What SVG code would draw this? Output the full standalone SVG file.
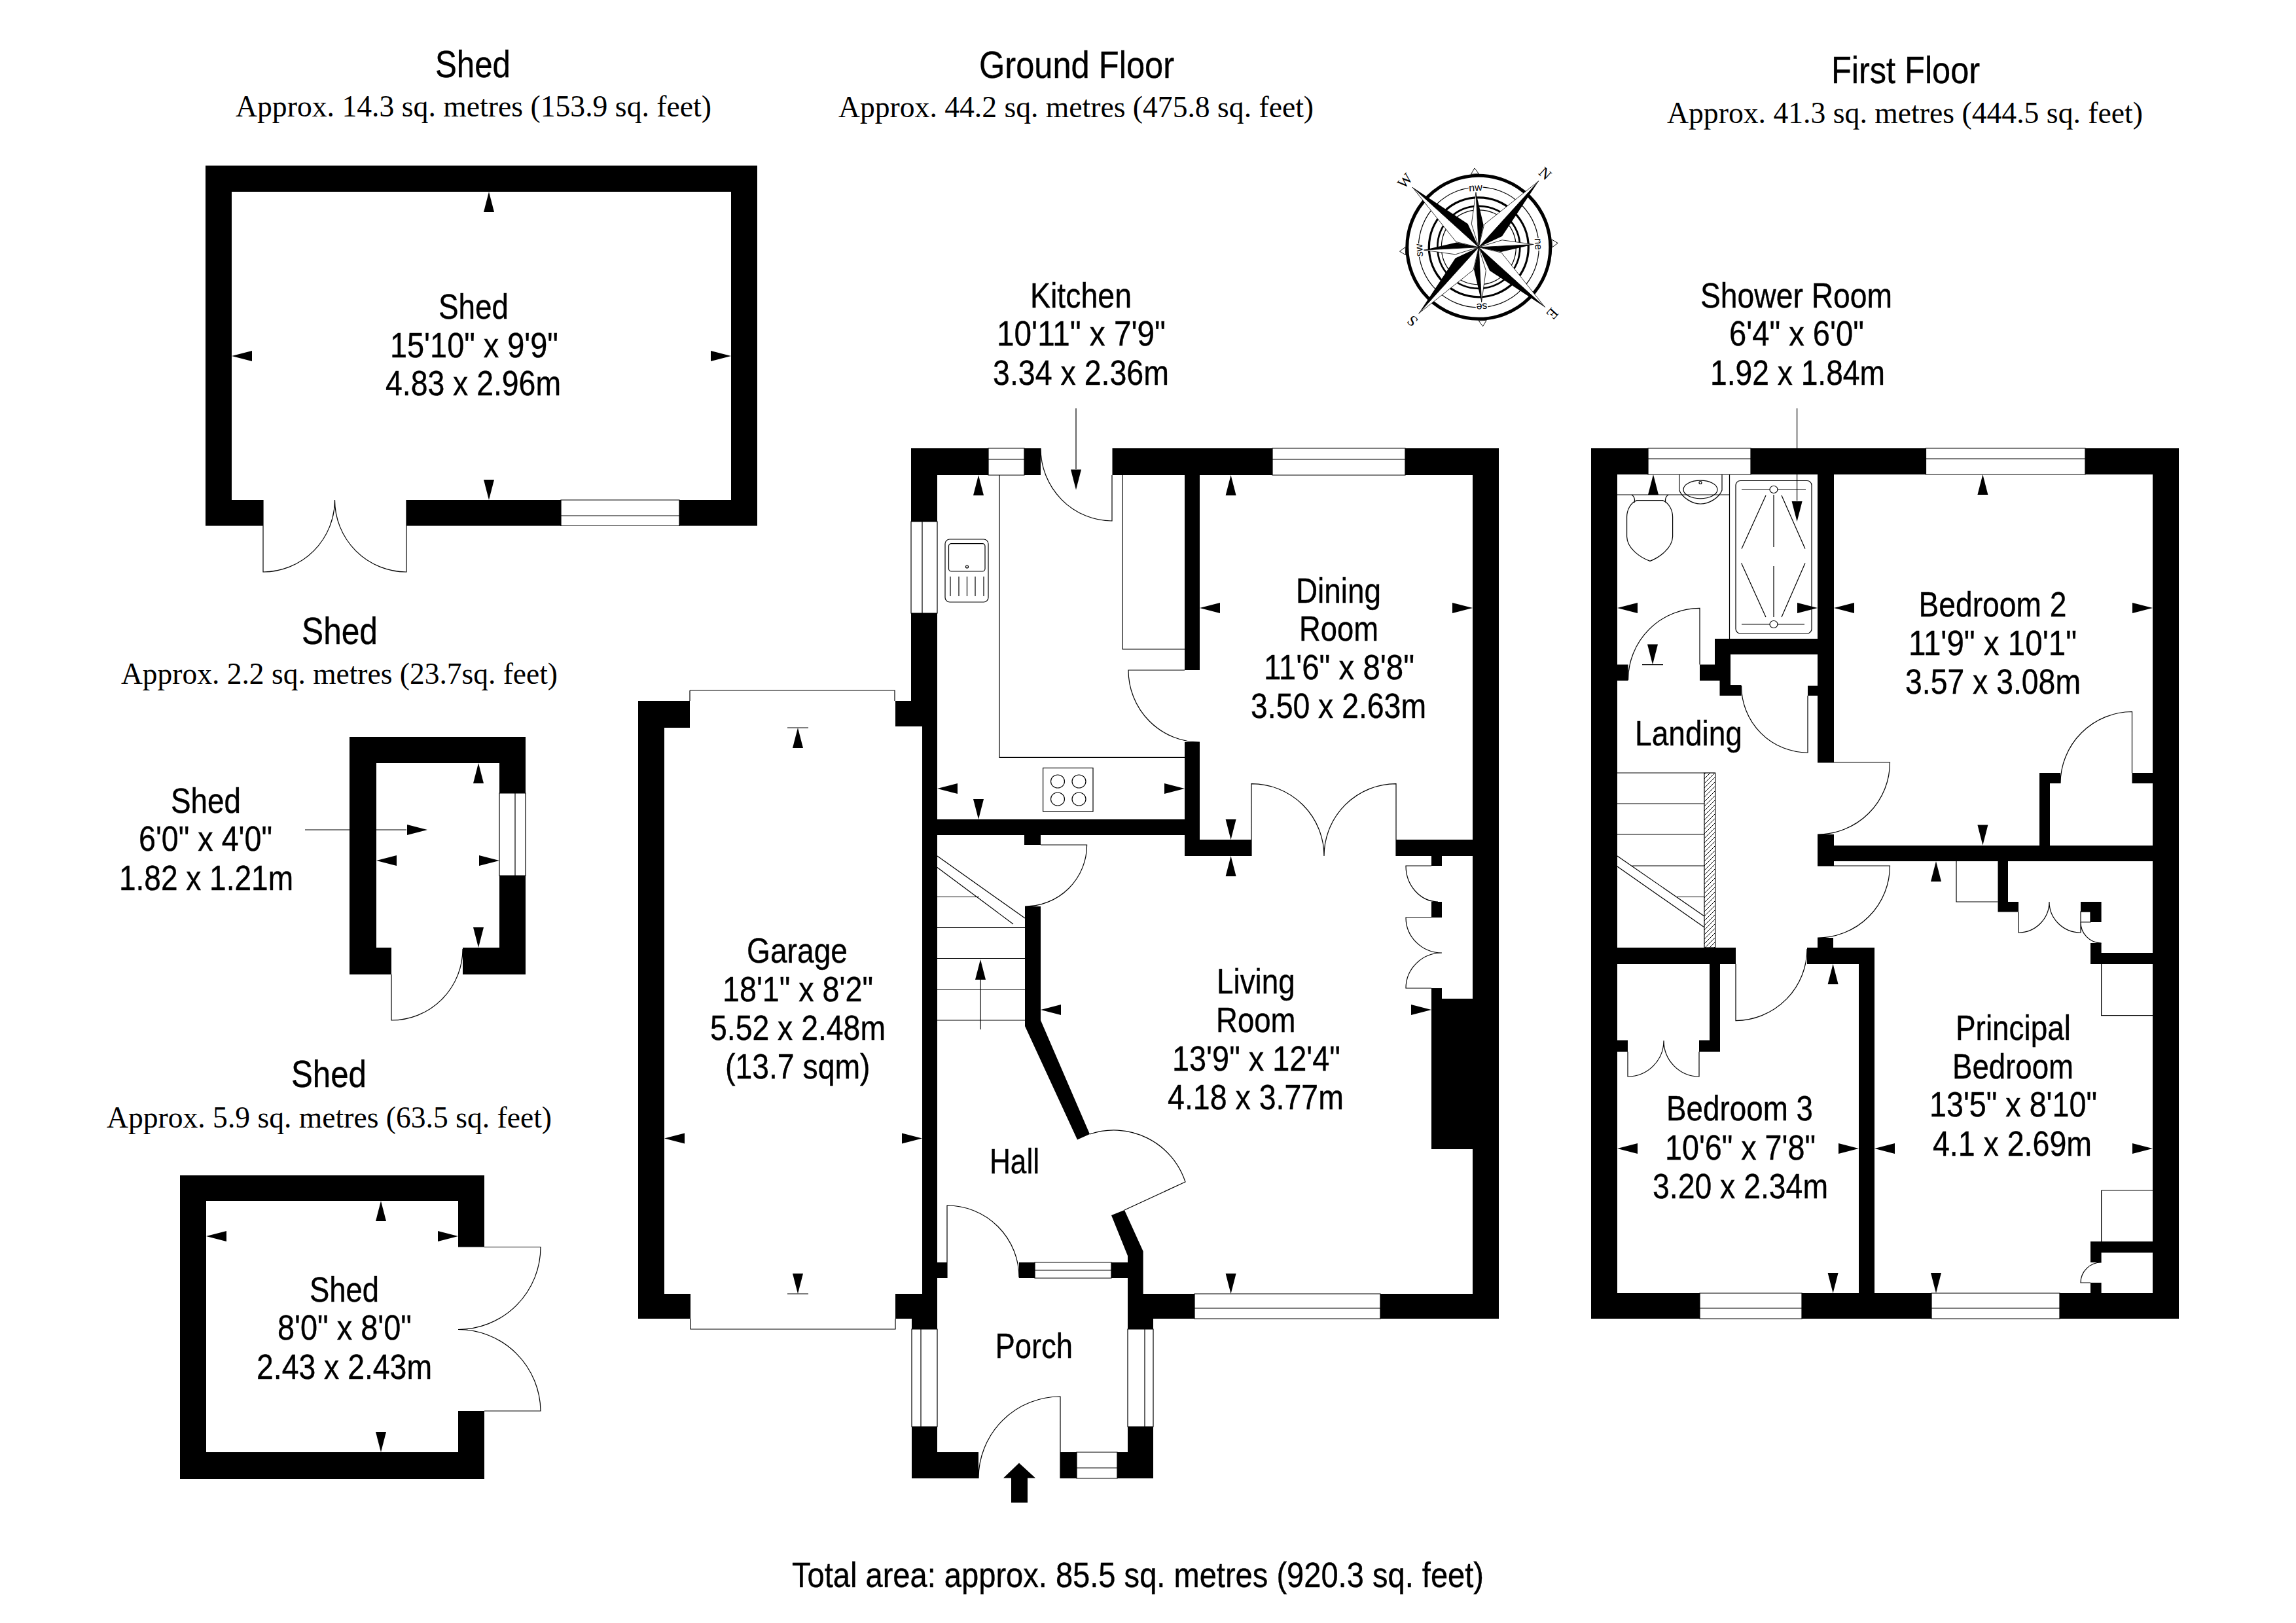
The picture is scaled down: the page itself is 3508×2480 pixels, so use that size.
<svg xmlns="http://www.w3.org/2000/svg" xmlns:xlink="http://www.w3.org/1999/xlink" width="3508" height="2480" viewBox="0 0 3508 2480">
<style>
text{fill:#000;white-space:pre}
.t{font:58px "Liberation Sans",Arial,sans-serif;stroke:#000;stroke-width:.4}
.l{font:54px "Liberation Sans",Arial,sans-serif;stroke:#000;stroke-width:.4}
.a{font:46px "Liberation Serif","Times New Roman",serif}
.w{fill:#000;stroke:none}
.n{fill:none;stroke:#000;stroke-width:1.2}
.f{fill:#fff;stroke:#000;stroke-width:1.2}
</style>
<defs>
<path id="h" d="M0 0L8 31H-8Z"/>
<pattern id="hatch" width="7" height="7" patternUnits="userSpaceOnUse"><path d="M-1 1L1 -1M0 7L7 0M6 8L8 6" stroke="#000" stroke-width="1"/></pattern>
<g id="arm">
<path d="M0 0L91.7 -101.3L8.300 -34.700Z" fill="#fff" stroke="#000" stroke-width=".8"/>
<path d="M0 0L91.7 -101.3L35.700 -16.700Z" fill="#000"/>
<path d="M0 0L-4.300 -84L-11 -35.700Z" fill="#fff" stroke="#000" stroke-width=".8"/>
<path d="M0 0L-4.300 -84L7.300 -34Z" fill="#000"/>
</g>
</defs>
<rect width="3508" height="2480" fill="#fff"/>

<g id="shed-1">
<path class="w" d="M314 253H1157V293H314ZM314 253H354V803.500H314ZM1117 253H1157V803.500H1117ZM314 764H402V803.500H314ZM621 764H857V803.500H621ZM1038 764H1157V803.500H1038Z"/>
<path class="n" d="M857 764H1038V803.500H857ZM857 788H1038M402 764V874A110 110 0 0 0 511.500 764M621 764V874A110 110 0 0 1 511.500 764"/>
<use href="#h" transform="translate(747 293)"/><use href="#h" transform="translate(747 764) rotate(180)"/><use href="#h" transform="translate(354 544) rotate(-90)"/><use href="#h" transform="translate(1117 544) rotate(90)"/>
<text class="t" x="665" y="117.500" textLength="115" lengthAdjust="spacingAndGlyphs">Shed</text>
<text class="a" x="360" y="178" textLength="727" lengthAdjust="spacingAndGlyphs">Approx. 14.3 sq. metres (153.9 sq. feet)</text>
<text class="l" x="670" y="487" textLength="107" lengthAdjust="spacingAndGlyphs">Shed</text>
<text class="l" x="596" y="545.500" textLength="257" lengthAdjust="spacingAndGlyphs">15'10" x 9'9"</text>
<text class="l" x="589" y="604" textLength="268" lengthAdjust="spacingAndGlyphs">4.83 x 2.96m</text>
</g>

<g id="shed-2">
<path class="w" d="M534 1126H803V1166H534ZM534 1126H575V1489H534ZM763 1126H803V1212H763ZM763 1338H803V1489H763ZM534 1448H598V1489H534ZM707 1448H803V1489H707Z"/>
<path class="n" d="M763 1212H803V1338H763ZM787 1212V1338M598 1489V1559A109 109 0 0 0 707 1450M466 1268H621"/>
<use href="#h" transform="translate(731 1166)"/><use href="#h" transform="translate(731 1448) rotate(180)"/><use href="#h" transform="translate(575 1315) rotate(-90)"/><use href="#h" transform="translate(763 1315) rotate(90)"/><use href="#h" transform="translate(653 1268) rotate(90)"/>
<text class="t" x="461" y="984" textLength="116" lengthAdjust="spacingAndGlyphs">Shed</text>
<text class="a" x="185" y="1045" textLength="667" lengthAdjust="spacingAndGlyphs">Approx. 2.2 sq. metres (23.7sq. feet)</text>
<text class="l" x="261" y="1242" textLength="107" lengthAdjust="spacingAndGlyphs">Shed</text>
<text class="l" x="212" y="1300" textLength="204" lengthAdjust="spacingAndGlyphs">6'0" x 4'0"</text>
<text class="l" x="182" y="1360" textLength="266" lengthAdjust="spacingAndGlyphs">1.82 x 1.21m</text>
</g>

<g id="shed-3">
<path class="w" d="M275 1796H740V1835H275ZM275 1796H315V2260H275ZM275 2219H740V2260H275ZM700 1796H740V1905.500H700ZM700 2156H740V2260H700Z"/>
<path class="n" d="M740 1905.500H826A126 126 0 0 1 700 2031.500A126 126 0 0 1 826 2156H740"/>
<use href="#h" transform="translate(582 1835)"/><use href="#h" transform="translate(582 2219) rotate(180)"/><use href="#h" transform="translate(315 1889) rotate(-90)"/><use href="#h" transform="translate(700 1889) rotate(90)"/>
<text class="t" x="445" y="1661" textLength="115" lengthAdjust="spacingAndGlyphs">Shed</text>
<text class="a" x="163" y="1723" textLength="680" lengthAdjust="spacingAndGlyphs">Approx. 5.9 sq. metres (63.5 sq. feet)</text>
<text class="l" x="473" y="1989" textLength="106" lengthAdjust="spacingAndGlyphs">Shed</text>
<text class="l" x="424" y="2047" textLength="205" lengthAdjust="spacingAndGlyphs">8'0" x 8'0"</text>
<text class="l" x="392" y="2107" textLength="268" lengthAdjust="spacingAndGlyphs">2.43 x 2.43m</text>
</g>

<g id="compass" transform="translate(2259.300 377.800)">
<circle r="109.500" fill="none" stroke="#000" stroke-width="5"/>
<circle r="92" class="n"/>
<circle r="76" fill="none" stroke="#000" stroke-width="3.300"/>
<circle r="63" fill="none" stroke="#000" stroke-width="2.700"/>
<circle r="57" class="n"/>
<use href="#arm"/><use href="#arm" transform="rotate(90)"/><use href="#arm" transform="rotate(180)"/><use href="#arm" transform="rotate(270)"/>
<g transform="rotate(-3)" fill="#fff" stroke="#000" stroke-width=".9">
<path d="M0 -121L-6 -112H6Z"/>
<path d="M0 -121L-6 -112H6Z" transform="rotate(90)"/><path d="M0 -121L-6 -112H6Z" transform="rotate(180)"/><path d="M0 -121L-6 -112H6Z" transform="rotate(270)"/>
</g>
<g font-family="'Liberation Sans',Arial,sans-serif" font-size="16" text-anchor="middle" paint-order="stroke" stroke="#fff" stroke-width="3">
<text transform="rotate(-3) translate(0 -86)">nw</text>
<text transform="rotate(87) translate(0 -86)">ne</text>
<text transform="rotate(177) translate(0 -86)">se</text>
<text transform="rotate(267) translate(0 -86)">sw</text>
</g>
<g font-family="'Liberation Serif','Times New Roman',serif" font-size="23" text-anchor="middle">
<text transform="rotate(42) translate(0 -144)">N</text>
<text transform="rotate(132) translate(0 -144)">E</text>
<text transform="rotate(222) translate(0 -144)">S</text>
<text transform="rotate(312) translate(0 -144)">W</text>
</g>
</g>

<g id="ground-floor">
<path class="w" d="M1392 685H1432V797H1392ZM1392 937H1432V1071H1392ZM1392 685H1510V726H1392ZM1565 685H1590V726H1565ZM1368 1071H1432V1110H1368ZM1409 1100H1432V2015H1409ZM975 1071H1054V1112H975ZM975 1071H1015V2015H975ZM975 1977H1055V2015H975ZM1368 1977H1432V2015H1368ZM1393 2015H1432V2031H1393ZM1393 2180H1432V2259H1393ZM1432 2219H1495V2259H1432ZM1432 1252H1810V1276H1432ZM1565 1276H1590V1291H1565ZM1699.500 685H1944V726H1699.500ZM2147 685H2290V726H2147ZM2250 685H2290V2015H2250ZM1810 726H1833V1024H1810ZM1810 1134H1833V1283H1810ZM1810 1283H1912V1308H1810ZM2133 1283H2250V1308H2133ZM2187 1308H2203V1323H2187ZM2187 1378H2203V1402H2187ZM2187 1510H2203V1526H2187ZM2187 1526H2250V1756H2187ZM1566 1385H1590V1559L1665 1733L1646 1741.600L1566 1568ZM1698 1857L1718 1849L1746.600 1912V1977H1723V1919ZM1432 1929H1447V1953H1432ZM1557 1929H1581V1953H1557ZM1698 1929H1746.600V1953H1698ZM1723 1953H1746.600V2015H1723ZM1723 1977H1825V2015H1723ZM2109 1977H2290V2015H2109ZM1723 2015H1762V2031H1723ZM1723 2180H1762V2259H1723ZM1707 2219H1762V2259H1707ZM1620 2219H1645V2259H1620Z"/>
<path class="n" d="M1510 685H1565V726H1510ZM1510 701.600H1565M1944 685H2147V726H1944ZM1944 701.600H2147M1392 797H1432V937H1392ZM1409 797V937M1054 1055H1367V1071M1054 1055V1071M1055 2015V2031H1368V2015M1825 1977H2109V2015H1825ZM1825 1999H2109M1581 1929H1698V1953H1581ZM1581 1941H1698M1393 2031H1432V2180H1393ZM1407 2031V2180M1723 2031H1762V2180H1723ZM1749 2031V2180M1645 2219H1707V2259H1645ZM1645 2243H1707"/>
<path class="n" d="M1590 685A109.500 111 0 0 0 1699 796V726M1810 1024H1724A109 110 0 0 0 1833 1134M1912 1308V1197.600A110.500 110.400 0 0 1 2023 1308A110 110.400 0 0 1 2133 1197.600V1308M1590 1291H1660.600A94.500 94 0 0 1 1566 1385M1447 1953V1842A110 110 0 0 1 1557 1952M1718 1849L1811 1806A115 115 0 0 0 1665 1733M1620 2259V2134A125 125 0 0 0 1495 2259M2187 1323H2148A50 55 0 0 0 2197 1378M2187 1402H2148A55 54 0 0 0 2203 1456A55 54 0 0 0 2148 1510H2187"/>
<path class="n" d="M1527 726V1157.400H1810M1715 726V992H1810M1432 1308L1566 1403M1432 1325.600L1548 1412M1432 1370.500H1496M1432 1417.500H1566M1432 1464.500H1566M1432 1511.500H1566M1432 1559H1566M1498 1573V1496M1203 1112H1235M1203 1977H1235"/>
<rect class="n" x="1444" y="824" width="66" height="96" rx="7"/>
<rect class="n" x="1449.500" y="830.600" width="55.500" height="42.400" rx="4"/>
<circle class="n" cx="1477.500" cy="866" r="2"/>
<path class="n" d="M1452 881V911M1465 881V911M1477.500 881V911M1490 881V911M1503 881V911"/>
<rect class="n" x="1593.600" y="1173.500" width="76.400" height="66.500"/>
<g class="n"><ellipse cx="1616" cy="1194" rx="10.500" ry="10"/><ellipse cx="1648.500" cy="1194" rx="10.500" ry="10"/><ellipse cx="1616" cy="1221" rx="10.500" ry="10"/><ellipse cx="1648.500" cy="1221" rx="10.500" ry="10"/></g>
<path class="n" d="M1644 624V717"/>
<path class="w" d="M1557 2235.500L1582 2258.600H1570V2296H1545V2258.600H1533Z"/>
<use href="#h" transform="translate(1495 726)"/><use href="#h" transform="translate(1644 748.500) rotate(180)"/><use href="#h" transform="translate(1432 1205) rotate(-90)"/><use href="#h" transform="translate(1810 1205) rotate(90)"/><use href="#h" transform="translate(1495 1252) rotate(180)"/>
<use href="#h" transform="translate(1880.600 726)"/><use href="#h" transform="translate(1833 929) rotate(-90)"/><use href="#h" transform="translate(2250 929) rotate(90)"/><use href="#h" transform="translate(1880.600 1283) rotate(180)"/>
<use href="#h" transform="translate(1880.600 1308)"/><use href="#h" transform="translate(1590 1543) rotate(-90)"/><use href="#h" transform="translate(2187 1543) rotate(90)"/><use href="#h" transform="translate(1880.600 1977) rotate(180)"/>
<use href="#h" transform="translate(1219 1112)"/><use href="#h" transform="translate(1219 1977) rotate(180)"/><use href="#h" transform="translate(1015 1739.500) rotate(-90)"/><use href="#h" transform="translate(1409 1739.500) rotate(90)"/><use href="#h" transform="translate(1498 1466)"/>
<text class="t" x="1496" y="119" textLength="298" lengthAdjust="spacingAndGlyphs">Ground Floor</text>
<text class="a" x="1281" y="179" textLength="726" lengthAdjust="spacingAndGlyphs">Approx. 44.2 sq. metres (475.8 sq. feet)</text>
<text class="l" x="1574" y="470" textLength="155" lengthAdjust="spacingAndGlyphs">Kitchen</text>
<text class="l" x="1523" y="528" textLength="258" lengthAdjust="spacingAndGlyphs">10'11" x 7'9"</text>
<text class="l" x="1517" y="588" textLength="269" lengthAdjust="spacingAndGlyphs">3.34 x 2.36m</text>
<text class="l" x="1980" y="921" textLength="130" lengthAdjust="spacingAndGlyphs">Dining</text>
<text class="l" x="1985" y="979" textLength="121" lengthAdjust="spacingAndGlyphs">Room</text>
<text class="l" x="1931" y="1038" textLength="230" lengthAdjust="spacingAndGlyphs">11'6" x 8'8"</text>
<text class="l" x="1911" y="1096.500" textLength="268" lengthAdjust="spacingAndGlyphs">3.50 x 2.63m</text>
<text class="l" x="1141" y="1471" textLength="154" lengthAdjust="spacingAndGlyphs">Garage</text>
<text class="l" x="1104" y="1530" textLength="230" lengthAdjust="spacingAndGlyphs">18'1" x 8'2"</text>
<text class="l" x="1085" y="1589" textLength="268" lengthAdjust="spacingAndGlyphs">5.52 x 2.48m</text>
<text class="l" x="1108" y="1647.500" textLength="221.500" lengthAdjust="spacingAndGlyphs">(13.7 sqm)</text>
<text class="l" x="1859" y="1518" textLength="119.600" lengthAdjust="spacingAndGlyphs">Living</text>
<text class="l" x="1858" y="1577" textLength="121.500" lengthAdjust="spacingAndGlyphs">Room</text>
<text class="l" x="1791" y="1636" textLength="257" lengthAdjust="spacingAndGlyphs">13'9" x 12'4"</text>
<text class="l" x="1784" y="1695" textLength="269" lengthAdjust="spacingAndGlyphs">4.18 x 3.77m</text>
<text class="l" x="1512" y="1793" textLength="76" lengthAdjust="spacingAndGlyphs">Hall</text>
<text class="l" x="1520.400" y="2075" textLength="118.600" lengthAdjust="spacingAndGlyphs">Porch</text>
</g>

<g id="first-floor">
<path class="w" d="M2431 685H2471V2015H2431ZM3289 685H3329V2015H3289ZM2431 685H2518V725H2431ZM2675 685H2942.500V725H2675ZM3186 685H3329V725H3186ZM2431 1976H2597V2015H2431ZM2753 1976H2951V2015H2753ZM3147 1976H3329V2015H3147ZM2777 725H2802V1165H2777ZM2777 1275H2802V1323H2777ZM2802 1292H3289V1316H2802ZM3116 1181H3132V1292H3116ZM3116 1181H3148V1197H3116ZM3257.500 1181H3289V1197H3257.500ZM2777 1433H2801V1448H2777ZM2761 1448H2864V1473H2761ZM2471 1448H2652V1473H2471ZM2840 1473H2864V1976H2840ZM2612 1473H2628V1607H2612ZM2596 1589.500H2628V1607H2596ZM2471 1589.500H2487V1607H2471ZM2620 976H2777V1000H2644V1047H2660.600V1063H2627.500V1040H2597V1015.600H2620ZM2762 1047.800H2777V1063H2762ZM2471 1015.600H2487.500V1040H2471ZM3052.500 1316H3068V1378H3052.500ZM3052.500 1378H3084V1393.400H3052.500ZM3179 1378H3210.600V1393.400H3179ZM3194 1393H3210.600V1409H3194ZM3194 1441H3210.600V1473H3194ZM3194 1456H3289V1473H3194ZM3194 1897H3289V1914H3194ZM3194 1914H3210.600V1929H3194ZM3194 1960H3210.600V1976H3194Z"/>
<path class="n" d="M2518 685H2675V725H2518ZM2518 701H2675M2942.500 685H3186V725H2942.500ZM2942.500 701H3186M2597 1976H2753V2015H2597ZM2597 1999H2753M2951 1976H3147V2015H2951ZM2951 1999H3147M3179 1393H3194V1409H3179Z"/>
<path class="n" d="M2777 1165H2887.500A110.500 110 0 0 1 2777 1275M2777 1323H2887.500A110.500 110 0 0 1 2777 1433M3257.500 1181V1087.500A110 110 0 0 0 3148 1197M2652 1473V1559.600A110 110 0 0 0 2761 1450M2487 1607V1645A55 55 0 0 0 2542 1590A54 55 0 0 0 2596 1645V1607M2762 1063V1150A101.500 102 0 0 1 2660.600 1048M2597 1015.600V929.400A110 110 0 0 0 2487.500 1039M3084 1393.400V1425A47 47 0 0 0 3131 1378A48 47 0 0 0 3179 1425V1409M3179 1409A31.600 32 0 0 0 3210.600 1441M3194 1960H3179A31.600 31 0 0 1 3210.600 1929"/>
<path class="n" d="M2989 1316V1378H3052.500M3210.600 1473V1551.600H3289M3210.600 1819H3289M3210.600 1819V1897M2471 756H2642.500M2642.500 725V976"/>
<path class="n" d="M2471 1181H2604M2471 1228H2604M2471 1275H2604M2494 1323H2604M2560.600 1370.500H2604M2471 1308L2604 1400M2471 1324L2604 1417"/>
<rect x="2604" y="1181" width="16.600" height="267" fill="url(#hatch)" stroke="#000" stroke-width="1.200"/>
<rect class="n" x="2652" y="734.500" width="116" height="233.500" rx="7"/>
<ellipse class="n" cx="2710" cy="748" rx="6" ry="5.500"/><ellipse class="n" cx="2710" cy="954" rx="6" ry="5.500"/>
<path class="n" d="M2661 748H2704M2716 748H2759M2661 954H2704M2716 954H2757M2710 756V836M2710 865V943M2698 757L2661 838.600M2722 757L2758 838.600M2660.600 860.500L2698 943M2758 860.500L2722 943"/>
<path class="n" d="M2501 764.600H2540C2550 768 2555.600 780 2555.600 790V820C2555 838 2535 852 2521 857.400C2506 852 2486 838 2485.600 820V790C2485.600 780 2491 768 2501 764.600ZM2493 756Q2499 760 2497 768M2549 756Q2543 760 2545 768"/>
<path class="n" d="M2565.600 725V749C2570 760 2585 770 2598 770C2612 770 2627 760 2631 749V725"/>
<ellipse class="n" cx="2598" cy="748" rx="26" ry="13.800"/><circle class="n" cx="2598" cy="737.500" r="2"/>
<path class="n" d="M2745.600 624V765M2509 1015.600H2541"/>
<use href="#h" transform="translate(2526 725)"/><use href="#h" transform="translate(2525 1015.600) rotate(180)"/><use href="#h" transform="translate(2471 929) rotate(-90)"/><use href="#h" transform="translate(2777 929) rotate(90)"/><use href="#h" transform="translate(2745.600 797) rotate(180)"/>
<use href="#h" transform="translate(2802 929) rotate(-90)"/><use href="#h" transform="translate(3289 929) rotate(90)"/><use href="#h" transform="translate(3029.400 725)"/><use href="#h" transform="translate(3029.400 1291.600) rotate(180)"/>
<use href="#h" transform="translate(2958 1316)"/><use href="#h" transform="translate(2800.600 1473)"/><use href="#h" transform="translate(2471 1755) rotate(-90)"/><use href="#h" transform="translate(2840 1755) rotate(90)"/><use href="#h" transform="translate(2864 1755) rotate(-90)"/><use href="#h" transform="translate(3289 1755) rotate(90)"/><use href="#h" transform="translate(2800.600 1976) rotate(180)"/><use href="#h" transform="translate(2958 1976) rotate(180)"/>
<text class="t" x="2798" y="127" textLength="227" lengthAdjust="spacingAndGlyphs">First Floor</text>
<text class="a" x="2547" y="188" textLength="727" lengthAdjust="spacingAndGlyphs">Approx. 41.3 sq. metres (444.5 sq. feet)</text>
<text class="l" x="2598" y="470" textLength="293" lengthAdjust="spacingAndGlyphs">Shower Room</text>
<text class="l" x="2642" y="528" textLength="206" lengthAdjust="spacingAndGlyphs">6'4" x 6'0"</text>
<text class="l" x="2613" y="588" textLength="267" lengthAdjust="spacingAndGlyphs">1.92 x 1.84m</text>
<text class="l" x="2931.500" y="941.600" textLength="226" lengthAdjust="spacingAndGlyphs">Bedroom 2</text>
<text class="l" x="2916" y="1001" textLength="257" lengthAdjust="spacingAndGlyphs">11'9" x 10'1"</text>
<text class="l" x="2911" y="1060" textLength="268" lengthAdjust="spacingAndGlyphs">3.57 x 3.08m</text>
<text class="l" x="2498" y="1139" textLength="164" lengthAdjust="spacingAndGlyphs">Landing</text>
<text class="l" x="2988" y="1589" textLength="176" lengthAdjust="spacingAndGlyphs">Principal</text>
<text class="l" x="2983" y="1647.600" textLength="185" lengthAdjust="spacingAndGlyphs">Bedroom</text>
<text class="l" x="2948" y="1706" textLength="256" lengthAdjust="spacingAndGlyphs">13'5" x 8'10"</text>
<text class="l" x="2953" y="1765.600" textLength="243" lengthAdjust="spacingAndGlyphs">4.1 x 2.69m</text>
<text class="l" x="2546" y="1712" textLength="224" lengthAdjust="spacingAndGlyphs">Bedroom 3</text>
<text class="l" x="2544" y="1772" textLength="230" lengthAdjust="spacingAndGlyphs">10'6" x 7'8"</text>
<text class="l" x="2525" y="1830.700" textLength="268" lengthAdjust="spacingAndGlyphs">3.20 x 2.34m</text>
</g>

<text id="total" class="l" x="1210" y="2425" textLength="1057" lengthAdjust="spacingAndGlyphs">Total area: approx. 85.5 sq. metres (920.3 sq. feet)</text>
</svg>
